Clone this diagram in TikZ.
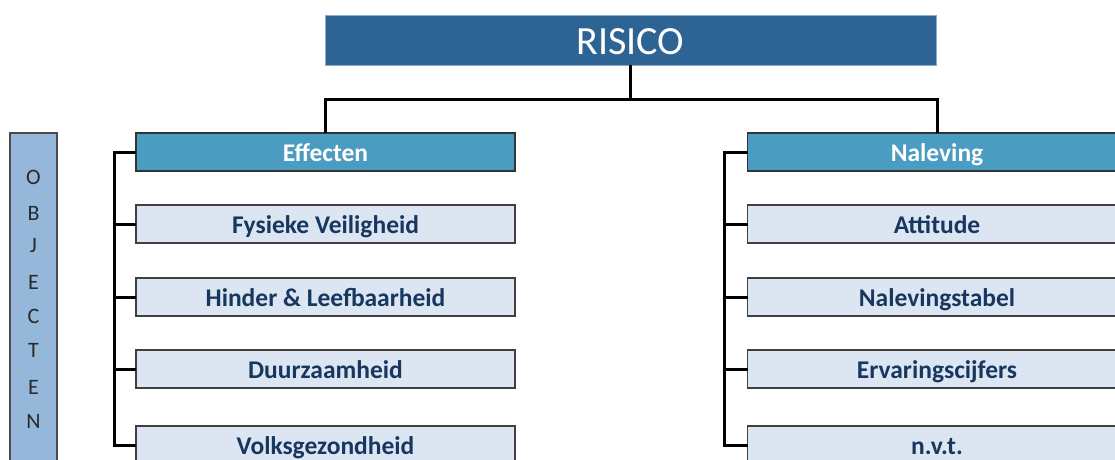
\documentclass[tikz,border=0pt]{standalone}
\usepackage{fontspec}
\setmainfont{Carlito}
\usetikzlibrary{positioning}
\definecolor{risicoblue}{HTML}{2E6494}
\definecolor{groupblue}{HTML}{4A9CC0}
\definecolor{itemfill}{HTML}{DCE6F2}
\definecolor{itemtext}{HTML}{17375E}
\definecolor{sidefill}{HTML}{95B7DA}
\definecolor{sideletter}{HTML}{2A2A2A}

\begin{document}
\begin{tikzpicture}[x=1pt,y=1pt,
  topbox/.style={draw=risicoblue!55!white,line width=1pt,fill=risicoblue,text=white,minimum width=611pt,minimum height=50pt,inner sep=0pt,outer sep=0pt,text height=30pt,text depth=2pt,font=\fontsize{40}{42}\selectfont},
  groupbox/.style={draw=black!80,line width=1.5pt,fill=groupblue,text=white,minimum width=379pt,minimum height=38pt,inner sep=0pt,outer sep=0pt,text height=20.5pt,text depth=2pt,font=\bfseries\fontsize{25.5}{27}\selectfont},
  itembox/.style={draw=black!75,line width=1.8pt,fill=itemfill,text=itemtext,minimum width=379pt,minimum height=38pt,inner sep=0pt,outer sep=0pt,text height=20.5pt,text depth=2pt,font=\bfseries\fontsize{25.5}{27}\selectfont},
  sideletter/.style={text=sideletter,inner sep=0pt,font=\fontsize{22}{24}\selectfont},
  link/.style={line width=3pt}]
\useasboundingbox (0,0) rectangle (1115,-459);
\clip (0,0) rectangle (1115,-459);

% top
\node[topbox] (risico) at (630.5,-40) {RISICO};

% groups
\node[groupbox] (effecten) at (325.5,-152) {Effecten};
\node[groupbox] (naleving) at (937,-152) {Naleving};

% items under Effecten
\node[itembox, below=34pt of effecten] (fysiek) {Fysieke Veiligheid};
\node[itembox, below=35pt of fysiek] (hinder) {Hinder \& Leefbaarheid};
\node[itembox, below=34pt of hinder] (duurzaam) {Duurzaamheid};
\node[itembox, below=38pt of duurzaam] (volks) {Volksgezondheid};

% items under Naleving
\node[itembox, below=34pt of naleving] (attitude) {Attitude};
\node[itembox, below=35pt of attitude] (tabel) {Nalevingstabel};
\node[itembox, below=34pt of tabel] (cijfers) {Ervaringscijfers};
\node[itembox, below=38pt of cijfers] (nvt) {n.v.t.};

% side bar
\draw[draw=black!70,line width=1.5pt,fill=sidefill] (10,-133) rectangle (57,-600);
\node[sideletter] (o1) at (33.5,-177.5) {O};
\node[sideletter] (b1) at (33.5,-213.5) {B};
\node[sideletter] (j1) at (33.5,-246) {J};
\node[sideletter] (e1) at (33.5,-282) {E};
\node[sideletter] (c1) at (33.5,-316) {C};
\node[sideletter] (t1) at (33.5,-350) {T};
\node[sideletter] (e2) at (33.5,-387) {E};
\node[sideletter] (n1) at (33.5,-421) {N};

% tree lines
\draw[link] (risico.south) -- (630.5,-99) coordinate (split);
\draw[link] (split) -| (effecten.north);
\draw[link] (split) -| (naleving.north);

\draw[link] (effecten.west) -- ++(-22,0) |- (volks.west);
\draw[link] (fysiek.west) -- ++(-22,0);
\draw[link] (hinder.west) -- ++(-22,0);
\draw[link] (duurzaam.west) -- ++(-22,0);

\draw[link] (naleving.west) -- ++(-23,0) |- (nvt.west);
\draw[link] (attitude.west) -- ++(-23,0);
\draw[link] (tabel.west) -- ++(-23,0);
\draw[link] (cijfers.west) -- ++(-23,0);
\end{tikzpicture}
\end{document}
